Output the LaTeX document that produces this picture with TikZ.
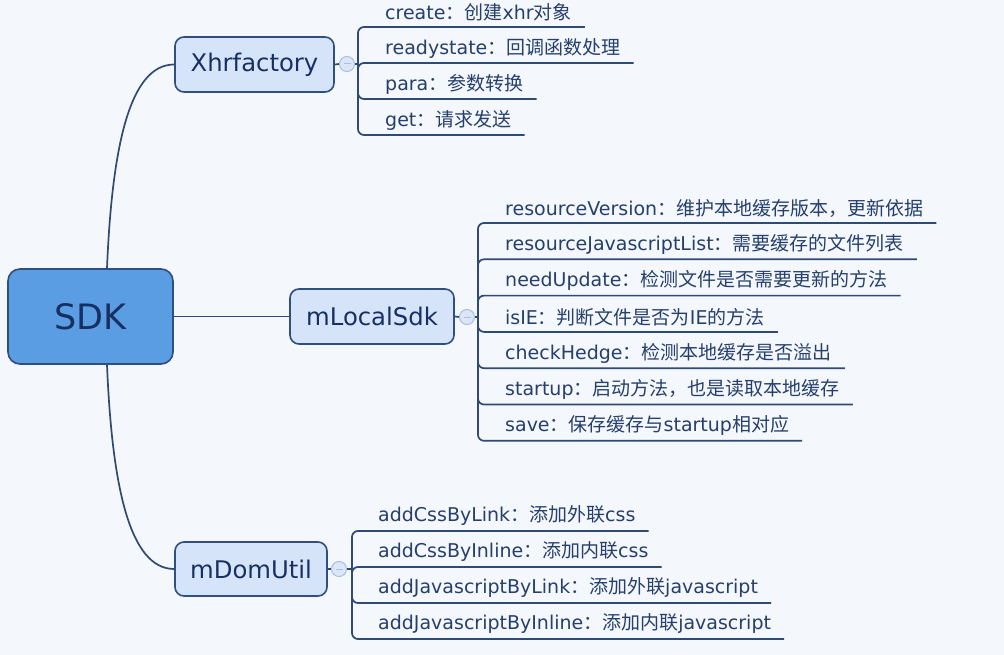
\documentclass[tikz,border=0pt]{standalone}
\usepackage{fontspec}
\setmainfont{DejaVu Sans}
\newfontfamily\cjk{Noto Sans CJK SC}
\usetikzlibrary{calc}
\definecolor{bgc}{HTML}{F4F7FC}
\definecolor{sdkfill}{HTML}{5B9DE2}
\definecolor{boxborder}{HTML}{2F4F7F}
\definecolor{subfill}{HTML}{D6E4FA}
\definecolor{navy}{HTML}{173062}
\definecolor{itemtext}{HTML}{263F6C}
\definecolor{linecol}{HTML}{2F4A75}
\definecolor{togfill}{HTML}{DCE6F7}
\definecolor{togdraw}{HTML}{A8C0E6}
\tikzset{
  rootbox/.style={rounded corners=12pt, fill=sdkfill, draw=boxborder, line width=1.6pt,
    minimum width=165pt, minimum height=95pt, inner sep=0pt, text=navy,
    font=\fontsize{35}{40}\selectfont},
  mainbox/.style={rounded corners=9pt, fill=subfill, draw=boxborder, line width=1.6pt,
    minimum height=55pt, inner sep=0pt, text=navy, font=\fontsize{24.3}{28}\selectfont},
  item/.style={anchor=west, inner sep=0pt, text=itemtext, font=\fontsize{19}{22}\selectfont},
  conn/.style={draw=linecol, line width=1.7pt},
  spine/.style={draw=linecol, line width=1.7pt, rounded corners=6pt},
  toggle/.style={circle, minimum size=15pt, inner sep=0pt, fill=togfill, draw=togdraw, line width=1pt}
}
\begin{document}
\begin{tikzpicture}[x=1pt,y=-1pt]
\useasboundingbox[fill=bgc] (0,0) rectangle (1004,655);
% main nodes
\node[rootbox] (sdk) at (90.5,316.5) {SDK};
\node[mainbox, minimum width=159pt] (xhr) at (254.5,64.5) {Xhrfactory};
\node[mainbox, minimum width=164pt] (loc) at (372,316.5) {mLocalSdk};
\node[mainbox, minimum width=152pt, minimum height=54pt] (dom) at (251,569) {mDomUtil};
% connectors from root
\draw[conn] (sdk.east) -- (loc.west);
\draw[conn] ($(sdk.north)+(16.5,0)$) .. controls +(5,-120) and +(-45,0) .. (xhr.west);
\draw[conn] ($(sdk.south)+(16.5,0)$) .. controls +(5,120) and +(-45,0) .. (dom.west);
% toggles
\node[toggle] (tx) at (347,64) {};
\node[toggle] (tl) at (467,317) {};
\node[toggle] (td) at (339,569) {};
\draw[conn] (xhr.east) -- (tx.west);
\draw[conn] (loc.east) -- (tl.west);
\draw[conn] (dom.east) -- (td.west);
\foreach \t in {tx,tl,td}{\draw[togdraw, line width=1pt] ($(\t.center)+(-3.5,0)$) -- ($(\t.center)+(3.5,0)$);}
\coordinate (jx) at (358,64);
\coordinate (jl) at (478,317);
\coordinate (jd) at (352,569);
\draw[conn] (tx.east) -- (jx);
\draw[conn] (tl.east) -- (jl);
\draw[conn] (td.east) -- (jd);
% Xhrfactory items
\node[item] (x1) at (385,12) {create{\cjk ：创建}xhr{\cjk 对象}};
\node[item] (x2) at (385,48) {readystate{\cjk ：回调函数处理}};
\node[item] (x3) at (385,84) {para{\cjk ：参数转换}};
\node[item] (x4) at (385,120) {get{\cjk ：请求发送}};
\foreach \n in {x1,x2,x3,x4}{\path (\n.east) ++(13,15) coordinate (\n e);}
\foreach \n in {x1,x2,x3,x4}{\draw[spine] (jx) |- (\n e);}
% mLocalSdk items
\node[item] (l1) at (505,208) {resourceVersion{\cjk ：维护本地缓存版本，更新依据}};
\node[item] (l2) at (505,244.3) {resourceJavascriptList{\cjk ：需要缓存的文件列表}};
\node[item] (l3) at (505,280.6) {needUpdate{\cjk ：检测文件是否需要更新的方法}};
\node[item] (l4) at (505,316.9) {isIE{\cjk ：判断文件是否为}IE{\cjk 的方法}};
\node[item] (l5) at (505,353.2) {checkHedge{\cjk ：检测本地缓存是否溢出}};
\node[item] (l6) at (505,389.5) {startup{\cjk ：启动方法，也是读取本地缓存}};
\node[item] (l7) at (505,425.8) {save{\cjk ：保存缓存与}startup{\cjk 相对应}};
\foreach \n in {l1,l2,l3,l4,l5,l6,l7}{\path (\n.east) ++(13,15) coordinate (\n e);}
\foreach \n in {l1,l2,l3,l4,l5,l6,l7}{\draw[spine] (jl) |- (\n e);}
% mDomUtil items
\node[item] (d1) at (378,515) {addCssByLink{\cjk ：添加外联}css};
\node[item] (d2) at (378,551) {addCssByInline{\cjk ：添加内联}css};
\node[item] (d3) at (378,587) {addJavascriptByLink{\cjk ：添加外联}javascript};
\node[item] (d4) at (378,623) {addJavascriptByInline{\cjk ：添加内联}javascript};
\foreach \n in {d1,d2,d3,d4}{\path (\n.east) ++(13,16) coordinate (\n e);}
\foreach \n in {d1,d2,d3,d4}{\draw[spine] (jd) |- (\n e);}
\end{tikzpicture}
\end{document}
